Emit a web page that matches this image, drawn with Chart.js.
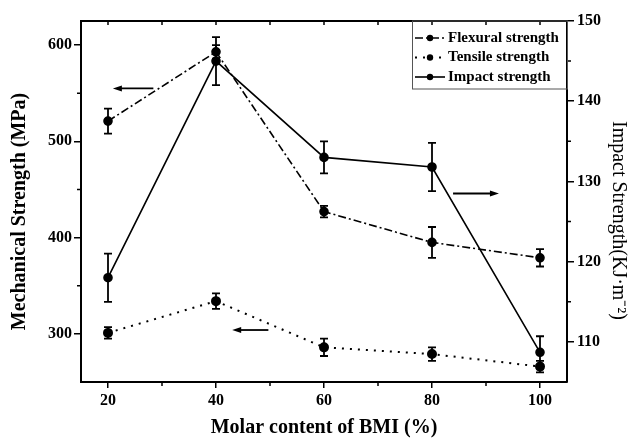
<!DOCTYPE html>
<html>
<head>
<meta charset="utf-8">
<script src="https://cdn.jsdelivr.net/npm/chart.js@4/dist/chart.umd.min.js"></script>
<style>
  html, body { margin: 0; padding: 0; background: #fff; }
</style>
</head>
<body>
<canvas id="chart" width="639" height="440"></canvas>
<script>
// Molar content of BMI (%)
const bmiContent = [20, 40, 60, 80, 100];

// left axis (MPa)
const flexural = [521, 593, 427, 395, 379];
const flexuralErr = [13, 7, 6, 16, 9];
const tensile = [301, 334, 286, 279, 266];
const tensileErr = [6, 8, 9, 7, 6];

// right axis (KJ/m2)
const impact = [118, 145, 133, 131.8, 108.7];
const impactErr = [3, 3, 2, 3, 2];

// the three arrows that point each curve to its axis: [axis, from x, to x, y]
const arrowMarks = [
    ['y', 28.4, 20.9, 555],
    ['y1', 83.9, 92.4, 128.5],
    ['y', 49.7, 43, 304],
];

const serif = '"Liberation Serif", "Times New Roman", serif';
const tickFont = { family: serif, size: 16, weight: 'bold' };

function points(values) {
    return bmiContent.map((x, i) => ({ x: x, y: values[i] }));
}

// error bars, top frame, minor ticks, arrows and the boxed legend
const extras = {
    id: 'extras',
    afterDatasetsDraw(chart) {
        const ctx = chart.ctx;
        const area = chart.chartArea;
        const xs = chart.scales.x;
        const yl = chart.scales.y;
        const yr = chart.scales.y1;
        ctx.save();
        ctx.strokeStyle = '#000';
        ctx.fillStyle = '#000';
        ctx.setLineDash([]);

        // error bars
        ctx.lineWidth = 1.8;
        [[flexural, flexuralErr, yl], [tensile, tensileErr, yl], [impact, impactErr, yr]].forEach(([vals, errs, sc]) => {
            vals.forEach((v, i) => {
                const px = xs.getPixelForValue(bmiContent[i]);
                const top = sc.getPixelForValue(v + errs[i]);
                const bot = sc.getPixelForValue(v - errs[i]);
                ctx.beginPath();
                ctx.moveTo(px, top); ctx.lineTo(px, bot);
                ctx.moveTo(px - 4, top); ctx.lineTo(px + 4, top);
                ctx.moveTo(px - 4, bot); ctx.lineTo(px + 4, bot);
                ctx.stroke();
            });
        });

        // top frame with inward ticks
        ctx.lineWidth = 2;
        ctx.beginPath();
        ctx.moveTo(area.left - 1, area.top);
        ctx.lineTo(area.right + 1, area.top);
        ctx.stroke();
        ctx.lineWidth = 1.5;
        ctx.beginPath();
        for (let v = 20; v <= 100; v += 10) {
            const px = xs.getPixelForValue(v);
            ctx.moveTo(px, area.top);
            ctx.lineTo(px, area.top + 4);
        }
        // minor ticks, outward
        for (let v = 30; v <= 90; v += 20) {
            const px = xs.getPixelForValue(v);
            ctx.moveTo(px, area.bottom);
            ctx.lineTo(px, area.bottom + 4);
        }
        for (let v = 350; v <= 550; v += 100) {
            const py = yl.getPixelForValue(v);
            ctx.moveTo(area.left, py);
            ctx.lineTo(area.left - 4, py);
        }
        for (let v = 115; v <= 145; v += 10) {
            const py = yr.getPixelForValue(v);
            ctx.moveTo(area.right, py);
            ctx.lineTo(area.right + 4, py);
        }
        ctx.stroke();

        // arrows
        ctx.lineWidth = 1.8;
        arrowMarks.forEach(([axis, fromX, toX, y]) => {
            const sc = chart.scales[axis];
            const x0 = xs.getPixelForValue(fromX);
            const x1 = xs.getPixelForValue(toX);
            const py = sc.getPixelForValue(y);
            const dir = x1 > x0 ? 1 : -1;
            ctx.beginPath();
            ctx.moveTo(x0, py);
            ctx.lineTo(x1 - dir * 6, py);
            ctx.stroke();
            ctx.beginPath();
            ctx.moveTo(x1, py);
            ctx.lineTo(x1 - dir * 9, py - 3);
            ctx.lineTo(x1 - dir * 9, py + 3);
            ctx.closePath();
            ctx.fill();
        });

        // legend box
        const bx = area.right - 155;
        const by = area.top;
        ctx.lineWidth = 1;
        ctx.strokeStyle = '#555';
        ctx.strokeRect(bx + 0.5, by, 155, 68);
        ctx.strokeStyle = '#000';
        ctx.font = 'bold 15px ' + serif;
        ctx.textBaseline = 'middle';
        chart.data.datasets.forEach((ds, i) => {
            const ly = by + 17 + i * 19.5;
            ctx.lineWidth = ds.borderWidth;
            ctx.setLineDash(ds.borderDash || []);
            ctx.beginPath();
            ctx.moveTo(bx + 3, ly);
            ctx.lineTo(bx + 33, ly);
            ctx.stroke();
            ctx.setLineDash([]);
            ctx.beginPath();
            ctx.arc(bx + 18, ly, 3.2, 0, Math.PI * 2);
            ctx.fill();
            ctx.fillText(ds.label, bx + 36, ly);
        });
        ctx.restore();
    }
};

// vertical titles sit a little below the middle of the axis in the original
function shiftTitle(scale, px) {
    scale.ctx.save();
    scale.ctx.translate(0, px);
}

new Chart(document.getElementById('chart'), {
    type: 'line',
    data: {
        datasets: [{
            label: 'Flexural strength',
            data: points(flexural),
            yAxisID: 'y',
            borderColor: '#000',
            backgroundColor: '#000',
            borderWidth: 1.6,
            borderDash: [8, 3, 2, 3],
            pointRadius: 4,
        }, {
            label: 'Tensile strength',
            data: points(tensile),
            yAxisID: 'y',
            borderColor: '#000',
            backgroundColor: '#000',
            borderWidth: 2,
            borderDash: [2, 6],
            pointRadius: 4,
        }, {
            label: 'Impact strength',
            data: points(impact),
            yAxisID: 'y1',
            borderColor: '#000',
            backgroundColor: '#000',
            borderWidth: 1.6,
            pointRadius: 4,
        }],
    },
    options: {
        responsive: false,
        animation: false,
        devicePixelRatio: 1,
        layout: { padding: { top: 21, left: 0, right: 0, bottom: 0 } },
        plugins: {
            legend: { display: false },
            tooltip: { enabled: false },
        },
        scales: {
            x: {
                type: 'linear',
                min: 15,
                max: 105,
                ticks: { stepSize: 20, includeBounds: false, font: tickFont, color: '#000', padding: 3 },
                grid: { drawOnChartArea: false, tickLength: 6, color: '#000', lineWidth: 1.5 },
                border: { color: '#000', width: 2 },
                title: {
                    display: true,
                    text: 'Molar content of BMI (%)',
                    color: '#000',
                    font: { family: serif, size: 20, weight: 'bold' },
                    padding: { top: 0, bottom: 0 },
                },
                afterFit: (scale) => { scale.height = 58; },
            },
            y: {
                position: 'left',
                min: 250,
                max: 625,
                ticks: { stepSize: 100, includeBounds: false, font: tickFont, color: '#000', padding: 2 },
                grid: { drawOnChartArea: false, tickLength: 7, color: '#000', lineWidth: 1.5 },
                border: { color: '#000', width: 2 },
                title: {
                    display: true,
                    text: 'Mechanical Strength (MPa)',
                    color: '#000',
                    font: { family: serif, size: 20, weight: 'bold' },
                    padding: { top: 8, bottom: 0 },
                },
                afterFit: (scale) => { scale.width = 81; },
            },
            y1: {
                position: 'right',
                min: 105,
                max: 150,
                ticks: { stepSize: 10, includeBounds: false, font: tickFont, color: '#000', padding: 3 },
                grid: { drawOnChartArea: false, tickLength: 7, color: '#000', lineWidth: 1.5 },
                border: { color: '#000', width: 2 },
                title: {
                    display: true,
                    text: 'Impact Strength(KJ·m⁻²)',
                    color: '#000',
                    font: { family: serif, size: 20, weight: 'normal' },
                    padding: { top: 9, bottom: 0 },
                },
                afterFit: (scale) => { scale.width = 72; },
            },
        },
    },
    plugins: [extras, {
        id: 'titleShift',
        beforeDraw(chart) {
            // move the two vertical axis titles down: draw each scale's title with an offset
            ['y', 'y1'].forEach((id) => {
                const scale = chart.scales[id];
                if (scale._shifted) return;
                scale._shifted = true;
                const orig = scale.drawTitle.bind(scale);
                const dy = id === 'y' ? 10 : 19;
                scale.drawTitle = function () {
                    shiftTitle(scale, dy);
                    orig();
                    scale.ctx.restore();
                };
            });
        },
    }],
});
</script>
</body>
</html>
